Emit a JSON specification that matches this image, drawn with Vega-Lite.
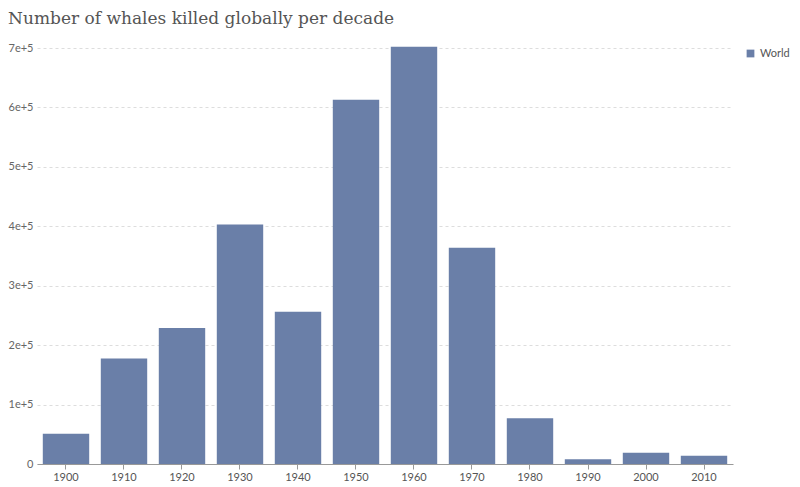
{
"$schema":"https://vega.github.io/schema/vega-lite/v6.json",
"width":800,"height":487,
"autosize":{"type":"fit","contains":"padding"},
"padding":{"left":8,"top":10,"right":10,"bottom":5},
"title":{"text":"Number of whales killed globally per decade","anchor":"start","font":"DejaVu Serif","fontSize":17,"fontWeight":"normal","color":"#555555","offset":14},
"data":{"values":[
{"decade":"1900","entity":"World","whales":51000},
{"decade":"1910","entity":"World","whales":177500},
{"decade":"1920","entity":"World","whales":229000},
{"decade":"1930","entity":"World","whales":403000},
{"decade":"1940","entity":"World","whales":256000},
{"decade":"1950","entity":"World","whales":613000},
{"decade":"1960","entity":"World","whales":702000},
{"decade":"1970","entity":"World","whales":364000},
{"decade":"1980","entity":"World","whales":77000},
{"decade":"1990","entity":"World","whales":8000},
{"decade":"2000","entity":"World","whales":19000},
{"decade":"2010","entity":"World","whales":14000}
]},
"mark":{"type":"bar","opacity":1},
"encoding":{
"x":{"field":"decade","type":"ordinal","title":null,"scale":{"paddingInner":0.2,"paddingOuter":0.1},
"axis":{"labelAngle":0,"labelFont":"Lato","labelFontSize":11,"labelColor":"#555","domainColor":"#999","tickColor":"#999","ticks":true}},
"y":{"field":"whales","type":"quantitative","title":null,"scale":{"domain":[0,700000]},
"axis":{"values":[0,100000,200000,300000,400000,500000,600000,700000],"format":",","labelFont":"Lato","labelFontSize":11,"labelColor":"#666","domain":false,"ticks":false,"gridDash":[3,3],"gridColor":"#ddd","labelPadding":4}},
"color":{"field":"entity","type":"nominal","scale":{"range":["#6a7fa8"]},
"legend":{"title":null,"orient":"right","labelFont":"Lato","labelFontSize":11,"labelColor":"#555","symbolType":"square","symbolSize":60,"offset":12}}
},
"config":{"view":{"stroke":null}}
}
